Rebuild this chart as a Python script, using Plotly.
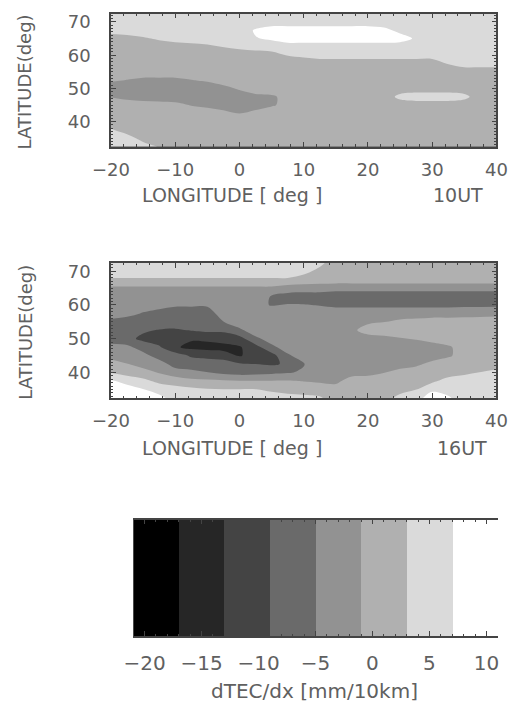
import numpy as np
import plotly.graph_objects as go

# ---------------- data ----------------
lon = [-20, -17.5, -15, -12.5, -10, -7.5, -5, -2.5, 0, 2.5, 5, 7.5, 10,
       12.5, 15, 17.5, 20, 22.5, 25, 27.5, 30, 32.5, 35, 37.5, 40]
lat = [72.5, 70, 67.5, 65, 62.5, 60, 57.5, 55, 52.5, 50, 47.5, 45, 42.5,
       40, 37.5, 35, 32.5]

# 10UT : rows are latitudes (72.5 -> 32.5), columns are longitudes
dtec_10ut = [
    [5]*25,
    [5]*25,
    [4.6, 5, 5, 5, 5, 5, 5, 5, 5, 7.4, 9, 9, 9, 9, 9, 9, 9, 8, 6, 5, 5, 5, 5, 5, 5],
    [1, 1.4, 2.5, 3.5, 4.6, 5, 5, 5, 5, 6.8, 7.5, 9, 9, 9, 9, 9, 9, 9, 8.5, 6.5, 5, 5, 5, 5, 5],
    [1, 1, 1, 1, 1, 1.4, 2.2, 3.1, 3.8, 4.6, 5, 5, 5, 5, 5, 5, 5, 5, 5, 5, 5, 5, 5, 5, 5],
    [1, 1, 1, 1, 1, 1, 1, 1, 1, 1, 1.4, 3.2, 3.8, 4.6, 4.6, 4.6, 4.6, 4.6, 4.6, 4.6, 4.6, 5, 5, 5, 5],
    [1, 1, 1, 1, 1, 1, 1, 1, 1, 1, 1, 1, 1, 1, 1, 1, 1, 1, 1, 1, 1, 3.2, 4.6, 4.6, 4.6],
    [1]*25,
    [-0.5, -1.1, -1.8, -1.8, -1.8, -1.1, -0.5, 1, 1, 1, 1, 1, 1, 1, 1, 1, 1, 1, 1, 1, 1, 1, 1, 1, 1],
    [-3, -3, -3, -3, -3, -3, -3, -2.2, -0.5, 1, 1, 1, 1, 1, 1, 1, 1, 1, 1, 1, 1, 1, 1, 1, 1],
    [-1.2, -2.2, -3, -3, -3, -3, -3, -3, -3, -2, -1.5, 0, 1, 1, 1, 1, 1, 1, 4, 5, 5, 5, 4, 1, 1],
    [1, 1, 1, 0.5, 0, -1.2, -2, -3, -3, -2.5, -1.4, 0, 1, 1, 1, 1, 1, 1, 1, 1, 1, 1, 1, 1, 1],
    [1, 1, 1, 1, 1, 1, 1, 0.2, -1.1, 0, 1, 1, 1, 1, 1, 1, 1, 1, 1, 1, 1, 1, 1, 1, 1],
    [1]*25,
    [3.4, 1.5, 1, 1, 1, 1, 1, 1, 1, 1, 1, 1, 1, 1, 1, 1, 1, 1, 1, 1, 1, 1, 1, 1, 1],
    [5, 4.5, 1.8, 1, 1, 1, 1, 1, 1, 1, 1, 1, 1, 1, 1, 1, 1, 1, 1, 1, 1, 1, 1, 1, 1],
    [5, 5, 4.5, 2.8, 1, 1, 1, 1, 1, 1, 1, 1, 1, 1, 1, 1, 1, 1, 1, 1, 1, 1, 1, 1, 1],
]

# 16UT : one latitude profile (72.5 -> 32.5) per longitude
dtec_16ut_by_lon = [
    [5, 5, 2.5, -1.8, -3, -3, -3, -6.1, -7, -7, -3.6, -2.6, 1, 2.9, 7.6, 9, 9],            # -20
    [5, 5, 2.5, -1.8, -3, -3, -3.7, -7, -8.5, -8, -3.9, -3, -0.8, 1.4, 5.5, 8.9, 9],       # -17.5
    [5, 5, 2.5, -1.8, -3, -3, -5.3, -7, -8.5, -9.8, -7, -3.4, -3, 1, 3.8, 7.2, 9],         # -15
    [5, 5, 2.5, -1.8, -3, -3, -7, -7, -9.2, -11, -8.5, -7, -3, -1.3, 2.2, 5, 8.4],         # -12.5
    [5, 5, 2.5, -1.8, -3, -4.5, -7, -7, -9.5, -11, -12.5, -7, -6.8, -3, 1, 4.6, 5],        # -10
    [5, 5, 2.5, -1.8, -3, -4.5, -7, -7, -8.8, -12.6, -14, -9.5, -7, -4, 0.1, 3.8, 5],      # -7.5
    [5, 5, 2.5, -1.8, -3, -4.5, -7, -7, -8.2, -12.2, -14.5, -10.1, -7, -4.9, -0.2, 3.3, 5],# -5
    [5, 5, 2.5, -1.8, -3, -3, -3, -5.1, -8.4, -11, -14.6, -11, -7, -6, -0.5, 3.1, 5],      # -2.5
    [5, 5, 2.5, -1.8, -3, -3, -3, -3, -5.8, -10.6, -13.4, -13.3, -8.5, -6.6, -0.8, 3.1, 5],# 0
    [5, 5, 2.5, -1.8, -4, -4, -3, -3, -3, -5.8, -10.6, -11.5, -9, -6.3, -0.8, 3.1, 5],     # 2.5
    [5, 5, 2.5, -1.8, -5.2, -5.2, -3, -3, -3, -3.5, -5.8, -10.6, -9.5, -5.8, -0.8, 2.2, 5],# 5
    [5, 5, 2.5, -3, -6.5, -4.8, -3, -3, -3, -3, -3.5, -5.5, -8.5, -5.3, -0.8, 1.5, 4.5],   # 7.5
    [5, 4, 1.5, -3, -7, -4.8, -3, -3, -3, -3, -3, -3.5, -5.2, -4.5, -1.1, 1, 4.2],         # 10
    [4, 2, 1, -3, -7, -5.2, -3, -3, -3, -3, -3, -3, -3, -3, -1.5, 1, 3.5],                 # 12.5
    [1, 1, 1, -3.5, -7.5, -5.8, -3, -3, -3, -3, -3, -3, -3, -3, -2.1, 1, 1],               # 15
    [1, 1, 1, -3.5, -7.5, -5.8, -3, -3, -2, -3, -3, -3, -3, -2.8, 1, 1, 1],                # 17.5
    [1, 1, 1, -3.5, -7.5, -5.8, -3, -1.8, 1, -3, -3, -3, -3, -2.3, 1, 1, 1],               # 20
    [1, 1, 1, -3.5, -7.5, -5.8, -3, -1.1, 1, -2.1, -3, -3, -3, -1.1, 1, 1, 1],             # 22.5
    [1, 1, 1, -3.5, -7.5, -5.8, -3, -0.2, 1, -1.3, -3, -3, -3, 0.6, 1, 1, 4.6],            # 25
    [1, 1, 1, -3.5, -7.5, -5.8, -3, 0.3, 1, -0.7, -3, -3, -1.8, 1, 1, 2.9, 5.5],           # 27.5
    [1, 1, 1, -3.5, -7.5, -5.8, -3, 1, 1, 0.6, -3, -3, 0.1, 1, 2.2, 6.2, 9],               # 30
    [1, 1, 1, -3.5, -7.5, -5.8, -3, 1, 1, 1, -1.5, -1.5, 1, 1, 4.6, 5.5, 7.5],             # 32.5
    [1, 1, 1, -3.5, -7.5, -5.8, -2.6, 1, 1, 1, 0.5, 0.5, 1, 2.2, 5, 5, 5],                 # 35
    [1, 1, 1, -3.5, -7.5, -5.8, -2.4, 1, 1, 1, 1, 1, 1, 3.1, 5, 5, 5],                     # 37.5
    [1, 1, 1, -3.5, -7.5, -5.8, -2.2, 1, 1, 1, 1, 1, 1.5, 3.8, 5, 5, 5],                   # 40
]

level_start, level_end, level_step = -21, 11, 4
band_colors = ["#000000", "#262626", "#444444", "#6a6a6a",
               "#929292", "#b0b0b0", "#dadada", "#ffffff"]
band_centers = [-19, -15, -11, -7, -3, 1, 5, 9]
cbar_ticks = [-20, -15, -10, -5, 0, 5, 10]
lon_ticks = [-20, -10, 0, 10, 20, 30, 40]
lat_ticks = [40, 50, 60, 70]

# ---------------- figure ----------------
z10 = np.array(dtec_10ut)[::-1]
z16 = np.array(dtec_16ut_by_lon).T[::-1]
lat_up = lat[::-1]

cs_contour = []
edges = [0] + [(k + 1.5) / 9 for k in range(7)] + [1]
for k, c in enumerate(band_colors):
    cs_contour.append([edges[k], c])
    cs_contour.append([edges[k + 1], c])

cs_bar = []
for k, c in enumerate(band_colors):
    cs_bar.append([k / 8, c])
    cs_bar.append([(k + 1) / 8, c])

contour_kw = dict(
    x=lon, y=lat_up,
    contours=dict(start=level_start, end=level_end, size=level_step,
                  coloring="fill", showlines=False),
    colorscale=cs_contour, showscale=False,
    line=dict(width=0, smoothing=1.0), hoverinfo="skip",
)

fig = go.Figure()
fig.add_trace(go.Contour(z=z10, xaxis="x", yaxis="y", **contour_kw))
fig.add_trace(go.Contour(z=z16, xaxis="x2", yaxis="y2", **contour_kw))
fig.add_trace(go.Heatmap(
    x=band_centers, y=[0], z=[list(range(8))], zmin=-0.5, zmax=7.5,
    colorscale=cs_bar, showscale=False, xaxis="x3", yaxis="y3",
    hoverinfo="skip",
))

FONT = "DejaVu Sans"
TXT = "#606060"
FRAME = "#444444"

def frame_axis(**kw):
    d = dict(showline=True, linecolor=FRAME, linewidth=1.5, mirror="ticks",
             ticks="inside", ticklen=5, tickwidth=1.2, tickcolor=FRAME,
             showgrid=False, zeroline=False,
             tickfont=dict(family=FONT, size=18, color=TXT))
    d.update(kw)
    return d

xdom = [97.5 / 531, 506 / 531]
y1dom = [1 - 145 / 706, 1 - 11.7 / 706]
y2dom = [1 - 397 / 706, 1 - 261.5 / 706]

fig.update_layout(
    width=531, height=706, margin=dict(l=0, r=0, t=0, b=0),
    paper_bgcolor="white", plot_bgcolor="white", showlegend=False,
    xaxis=frame_axis(domain=xdom, range=[-20, 40], tickvals=lon_ticks,
                     anchor="y", ticklabelstandoff=6,
                     minor=dict(dtick=2, ticks="inside", ticklen=2.5, tickcolor=FRAME)),
    yaxis=frame_axis(domain=y1dom, range=[32.5, 72.5], tickvals=lat_ticks,
                     anchor="x", ticklabelstandoff=15,
                     minor=dict(dtick=1, ticks="inside", ticklen=2.5, tickcolor=FRAME)),
    xaxis2=frame_axis(domain=xdom, range=[-20, 40], tickvals=lon_ticks,
                      anchor="y2", ticklabelstandoff=6,
                      minor=dict(dtick=2, ticks="inside", ticklen=2.5, tickcolor=FRAME)),
    yaxis2=frame_axis(domain=y2dom, range=[32.5, 72.5], tickvals=lat_ticks,
                      anchor="x2", ticklabelstandoff=15,
                      minor=dict(dtick=1, ticks="inside", ticklen=2.5, tickcolor=FRAME)),
    xaxis3=frame_axis(domain=[121 / 531, 507.5 / 531], range=[-21, 11],
                      tickvals=cbar_ticks, anchor="y3", ticklabelstandoff=8,
                      tickfont=dict(family=FONT, size=20, color=TXT),
                      minor=dict(dtick=1, ticks="inside", ticklen=2.5, tickcolor=FRAME)),
    yaxis3=dict(domain=[1 - 636 / 706, 1 - 519 / 706], range=[-0.5, 0.5],
                visible=False, anchor="x3"),
)

def ann(text, x, y, size, **kw):
    d = dict(text=text, x=x, y=y, xref="paper", yref="paper", showarrow=False,
             font=dict(family=FONT, size=size, color=TXT))
    d.update(kw)
    fig.add_annotation(**d)

ann("LATITUDE(deg)", 6 / 531, 1 - 80 / 706, 18, textangle=-90,
    xanchor="center", yanchor="middle")
ann("LATITUDE(deg)", 6 / 531, 1 - 331 / 706, 18, textangle=-90,
    xanchor="center", yanchor="middle")
ann("LONGITUDE [ deg ]", 226 / 531, 1 - 194 / 706, 19,
    xanchor="center", yanchor="middle")
ann("10UT", 494 / 531, 1 - 194 / 706, 19, xanchor="right", yanchor="middle")
ann("LONGITUDE [ deg ]", 226 / 531, 1 - 447 / 706, 19,
    xanchor="center", yanchor="middle")
ann("16UT", 498 / 531, 1 - 447 / 706, 19, xanchor="right", yanchor="middle")
ann("dTEC/dx [mm/10km]", 313 / 531, 1 - 691 / 706, 20,
    xanchor="center", yanchor="middle")

fig.write_html("out.html")
